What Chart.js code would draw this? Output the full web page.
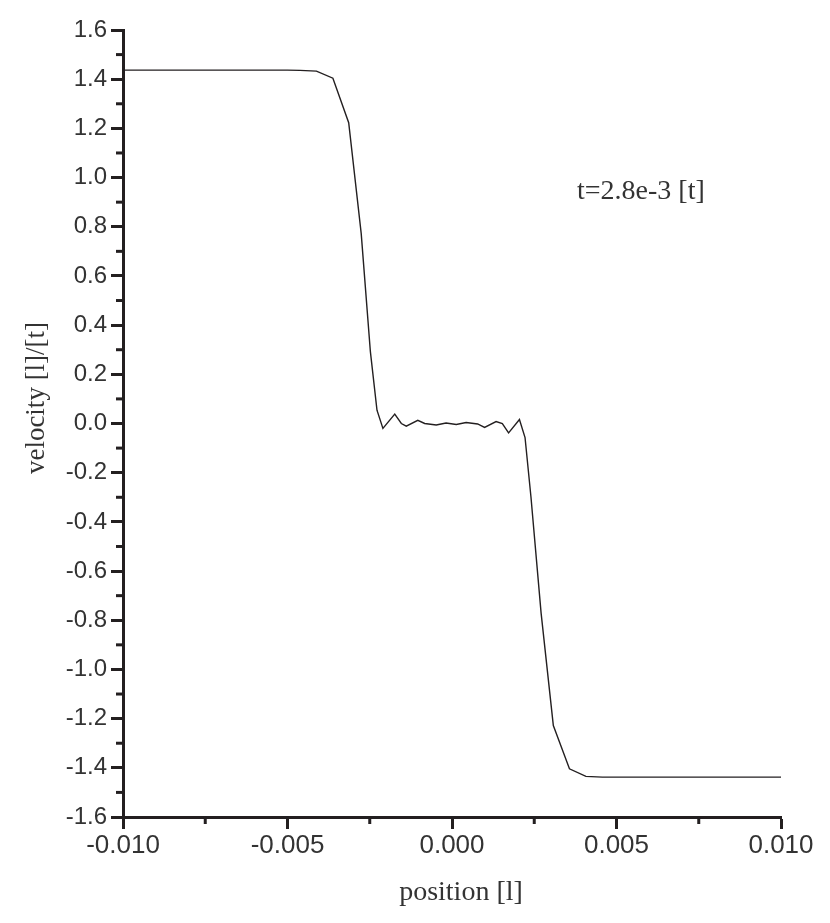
<!DOCTYPE html>
<html>
<head>
<meta charset="utf-8">
<script src="https://cdn.jsdelivr.net/npm/chart.js@4.4.1/dist/chart.umd.min.js"></script>
<style>
  html, body { margin: 0; padding: 0; background: #ffffff; }
  #wrap { width: 830px; height: 923px; }
</style>
</head>
<body>
<div id="wrap"><canvas id="c" width="830" height="923"></canvas></div>
<script>
// ---- data ----
const positions = [
  -0.0100, -0.0090, -0.0080, -0.0070, -0.0060, -0.0050, -0.00462,
  -0.00412, -0.00362, -0.00314, -0.00276, -0.00248, -0.00228, -0.00210,
  -0.00174, -0.00154, -0.00139, -0.00104, -0.00083, -0.00048, -0.00018,
  0.00013, 0.00043, 0.00078, 0.00099, 0.00134, 0.00153, 0.00172,
  0.00205, 0.00222, 0.00240, 0.00271, 0.00308, 0.00357, 0.00407,
  0.00457, 0.0050, 0.0060, 0.0070, 0.0080, 0.0090, 0.0100
];
const velocities = [
  1.437, 1.437, 1.437, 1.437, 1.437, 1.437, 1.436,
  1.433, 1.404, 1.223, 0.773, 0.291, 0.054, -0.020,
  0.038, 0.000, -0.011, 0.013, 0.000, -0.006, 0.002,
  -0.004, 0.004, -0.002, -0.016, 0.008, 0.000, -0.038,
  0.016, -0.057, -0.299, -0.773, -1.228, -1.404, -1.435,
  -1.438, -1.438, -1.438, -1.438, -1.438, -1.438, -1.438
];
const xMajorTicks = [-0.010, -0.005, 0.000, 0.005, 0.010];
const xMinorTicks = [-0.0075, -0.0025, 0.0025, 0.0075];
const yMajorTicks = [-1.6, -1.4, -1.2, -1.0, -0.8, -0.6, -0.4, -0.2, 0.0, 0.2, 0.4, 0.6, 0.8, 1.0, 1.2, 1.4, 1.6];
const yMinorTicks = [-1.5, -1.3, -1.1, -0.9, -0.7, -0.5, -0.3, -0.1, 0.1, 0.3, 0.5, 0.7, 0.9, 1.1, 1.3, 1.5];
const xTitle = 'position [l]';
const yTitle = 'velocity [l]/[t]';
const annotationText = 't=2.8e-3 [t]';

const INK = '#231f20';
const LABEL = '#333333';

const points = positions.map((x, i) => ({ x: x, y: velocities[i] }));

const extras = {
  id: 'extras',
  afterDraw(chart) {
    const ctx = chart.ctx;
    const xs = chart.scales.x, ys = chart.scales.y;
    const area = chart.chartArea;
    ctx.save();
    ctx.strokeStyle = INK;
    ctx.lineWidth = 3;
    ctx.lineCap = 'butt';
    // minor ticks
    yMinorTicks.forEach(v => {
      const py = ys.getPixelForValue(v);
      ctx.beginPath();
      ctx.moveTo(area.left - 7, py);
      ctx.lineTo(area.left, py);
      ctx.stroke();
    });
    xMinorTicks.forEach(v => {
      const px = xs.getPixelForValue(v);
      ctx.beginPath();
      ctx.moveTo(px, area.bottom);
      ctx.lineTo(px, area.bottom + 7);
      ctx.stroke();
    });
    // titles
    ctx.fillStyle = LABEL;
    ctx.font = '28px "Liberation Serif", "Times New Roman", serif';
    ctx.textAlign = 'center';
    ctx.textBaseline = 'alphabetic';
    ctx.fillText(xTitle, 461, 900);
    ctx.save();
    ctx.translate(44, 398);
    ctx.rotate(-Math.PI / 2);
    ctx.font = '27px "Liberation Serif", "Times New Roman", serif';
    ctx.fillText(yTitle, 0, 0);
    ctx.restore();
    // annotation
    ctx.textAlign = 'left';
    ctx.font = '28px "Liberation Serif", "Times New Roman", serif';
    ctx.fillText(annotationText, 577, 199);
    ctx.restore();
  }
};

new Chart(document.getElementById('c'), {
  type: 'scatter',
  data: {
    datasets: [{
      data: points,
      showLine: true,
      borderColor: INK,
      borderWidth: 1.4,
      pointRadius: 0,
      pointHoverRadius: 0,
      tension: 0,
      fill: false
    }]
  },
  options: {
    responsive: false,
    animation: false,
    devicePixelRatio: 1,
    layout: { padding: { top: 30, right: 49, left: 0, bottom: 0 } },
    plugins: { legend: { display: false }, tooltip: { enabled: false } },
    scales: {
      x: {
        type: 'linear',
        min: -0.010, max: 0.010,
        afterFit: s => { s.height = 106; },
        afterBuildTicks: s => { s.ticks = xMajorTicks.map(v => ({ value: v })); },
        border: { display: true, color: INK, width: 3 },
        grid: { drawOnChartArea: false, drawTicks: true, tickLength: 12, tickWidth: 3, tickColor: INK, color: INK },
        ticks: {
          padding: 1,
          color: LABEL,
          font: { family: '"Liberation Sans", Arial, sans-serif', size: 26 },
          maxRotation: 0,
          autoSkip: false,
          callback: v => (Math.abs(v) < 1e-12 ? 0 : v).toFixed(3)
        }
      },
      y: {
        type: 'linear',
        min: -1.6, max: 1.6,
        afterFit: s => { s.width = 123; },
        afterBuildTicks: s => { s.ticks = yMajorTicks.map(v => ({ value: v })); },
        border: { display: true, color: INK, width: 3 },
        grid: { drawOnChartArea: false, drawTicks: true, tickLength: 12, tickWidth: 3, tickColor: INK, color: INK },
        ticks: {
          padding: 4,
          color: LABEL,
          font: { family: '"Liberation Sans", Arial, sans-serif', size: 24 },
          autoSkip: false,
          callback: v => (Math.abs(v) < 1e-12 ? 0 : v).toFixed(1)
        }
      }
    }
  },
  plugins: [extras]
});
</script>
</body>
</html>
